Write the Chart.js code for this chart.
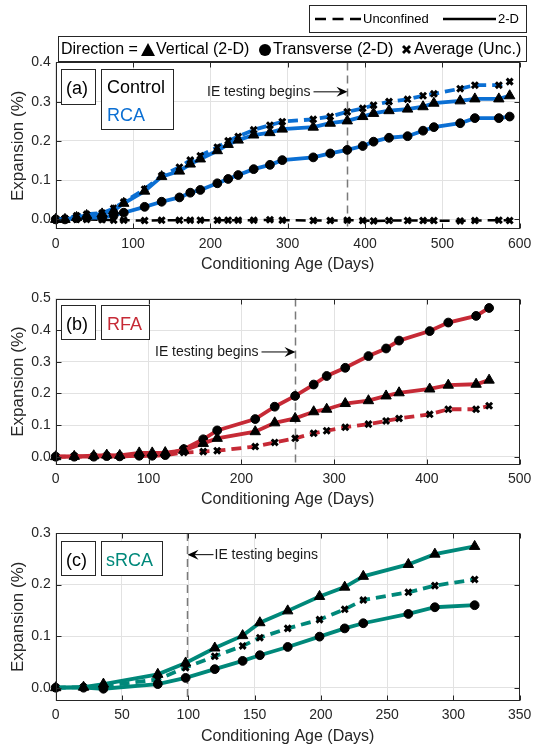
<!DOCTYPE html>
<html><head><meta charset="utf-8">
<script src="https://cdn.jsdelivr.net/npm/chart.js@4.4.1/dist/chart.umd.min.js"></script>
<style>
html,body{margin:0;padding:0;background:#fff;}
body{width:538px;height:752px;position:relative;overflow:hidden;font-family:"Liberation Sans",Arial,Helvetica,sans-serif;color:#000;}
canvas{position:absolute;left:0;z-index:1;}
.box{position:absolute;border:1px solid #262626;background:#fff;box-sizing:border-box;z-index:3;}
.t{position:absolute;white-space:nowrap;line-height:1;}
svg{position:absolute;overflow:visible;}
</style></head><body>

<!-- top legends -->
<div class="box" style="left:309px;top:5px;width:218px;height:28px;"></div>
<svg style="left:0;top:0;z-index:4" width="538" height="70">
  <line x1="315" y1="19" x2="361" y2="19" stroke="#000" stroke-width="2.5" stroke-dasharray="11,6.5"/>
  <line x1="443" y1="19" x2="496" y2="19" stroke="#000" stroke-width="2.5"/>
  <polygon points="141,56 155,56 148,43" fill="#000"/>
  <circle cx="265" cy="50" r="6" fill="#000"/>
  <g stroke="#000" stroke-width="2.8"><line x1="403" y1="46" x2="410" y2="53"/><line x1="403" y1="53" x2="410" y2="46"/></g>
</svg>
<span class="t" style="left:363px;top:12px;font-size:13px;z-index:4">Unconfined</span>
<span class="t" style="left:498px;top:12px;font-size:13px;z-index:4">2-D</span>
<div class="box" style="left:58px;top:36px;width:469px;height:26px;"></div>
<span class="t" style="left:61px;top:41px;font-size:16px;z-index:4">Direction =</span>
<span class="t" style="left:156px;top:41px;font-size:16px;z-index:4">Vertical (2-D)</span>
<span class="t" style="left:273px;top:41px;font-size:16px;z-index:4">Transverse (2-D)</span>
<span class="t" style="left:414px;top:41px;font-size:16px;z-index:4">Average (Unc.)</span>

<!-- panel labels -->
<div class="box" style="left:61px;top:69px;width:35px;height:36px;"></div>
<span class="t" style="left:66px;top:79px;font-size:18px;z-index:4">(a)</span>
<div class="box" style="left:101px;top:69px;width:73px;height:61px;"></div>
<span class="t" style="left:107px;top:78px;font-size:18px;z-index:4">Control</span>
<span class="t" style="left:107px;top:106px;font-size:18px;color:#0b6fd3;z-index:4">RCA</span>

<div class="box" style="left:61px;top:305px;width:35px;height:35px;"></div>
<span class="t" style="left:66px;top:315px;font-size:18px;z-index:4">(b)</span>
<div class="box" style="left:101px;top:305px;width:49px;height:35px;"></div>
<span class="t" style="left:107px;top:315px;font-size:18px;color:#c62a36;z-index:4">RFA</span>

<div class="box" style="left:61px;top:541px;width:35px;height:35px;"></div>
<span class="t" style="left:66px;top:551px;font-size:18px;z-index:4">(c)</span>
<div class="box" style="left:101px;top:541px;width:62px;height:35px;"></div>
<span class="t" style="left:106px;top:551px;font-size:18px;color:#00887a;z-index:4">sRCA</span>

<canvas id="cA" width="538" height="232" style="top:48px"></canvas>
<canvas id="cB" width="538" height="230" style="top:283px"></canvas>
<canvas id="cC" width="538" height="234" style="top:518px"></canvas>

<script>
// ================= DATA =================
// Panel (a): Control & RCA
const daysA = [0, 12, 27, 40, 60, 75, 88, 115, 137, 160, 174, 187, 209, 223, 236, 256, 277, 293, 333, 355, 377, 397, 411, 431, 455, 475, 489, 523, 542, 573, 587];
const rcaVerticalA = [0, 0.000, 0.005, 0.010, 0.014, 0.022, 0.041, 0.072, 0.109, 0.123, 0.141, 0.154, 0.175, 0.191, 0.202, 0.215, 0.221, 0.230, 0.235, 0.245, 0.251, 0.262, 0.270, 0.277, 0.281, 0.287, 0.296, 0.302, 0.307, 0.307, 0.315];
const rcaTransverseA = [0, 0.000, 0.003, 0.005, 0.004, 0.011, 0.017, 0.032, 0.045, 0.056, 0.068, 0.075, 0.092, 0.103, 0.113, 0.128, 0.139, 0.151, 0.158, 0.168, 0.177, 0.187, 0.198, 0.208, 0.212, 0.226, 0.235, 0.245, 0.258, 0.258, 0.262];
const rcaAverageA = [0, 0.002, 0.009, 0.013, 0.016, 0.028, 0.044, 0.077, 0.111, 0.133, 0.151, 0.162, 0.184, 0.200, 0.211, 0.228, 0.240, 0.249, 0.255, 0.262, 0.274, 0.283, 0.291, 0.300, 0.306, 0.315, 0.320, 0.333, 0.342, 0.342, 0.351];
const controlAverageA = [0, 0.000, 0.000, 0.000, -0.001, -0.002, -0.002, -0.003, -0.002, -0.002, -0.002, -0.002, -0.002, -0.002, -0.002, -0.002, -0.001, -0.002, -0.003, -0.003, -0.002, -0.003, -0.004, -0.003, -0.003, -0.003, -0.003, -0.004, -0.003, -0.002, -0.003];
const xTicksA = [0, 100, 200, 300, 400, 500, 600];
const yTicksA = [0, 0.1, 0.2, 0.3, 0.4];
const ieDayA = 377;

// Panel (b): RFA
const daysB = [0, 20, 41, 55, 69, 90, 104, 118, 138, 159, 174, 215, 236, 258, 278, 292, 312, 337, 356, 370, 403, 423, 453, 467];
const rfaVerticalB = [0, 0.001, 0.003, 0.005, 0.004, 0.012, 0.012, 0.013, 0.020, 0.042, 0.058, 0.079, 0.107, 0.121, 0.142, 0.150, 0.168, 0.177, 0.192, 0.202, 0.214, 0.226, 0.229, 0.242];
const rfaTransverseB = [0, 0.000, 0.000, 0.002, 0.001, 0.003, 0.003, 0.005, 0.024, 0.055, 0.083, 0.119, 0.158, 0.192, 0.228, 0.255, 0.281, 0.318, 0.342, 0.367, 0.397, 0.424, 0.445, 0.470];
const rfaAverageB = [0, 0.000, 0.000, 0.001, 0.001, 0.003, 0.004, 0.005, 0.013, 0.016, 0.019, 0.032, 0.045, 0.058, 0.074, 0.082, 0.093, 0.103, 0.113, 0.121, 0.134, 0.150, 0.150, 0.161];
const xTicksB = [0, 100, 200, 300, 400, 500];
const yTicksB = [0, 0.1, 0.2, 0.3, 0.4, 0.5];
const ieDayB = 258;

// Panel (c): sRCA
const daysC = [0, 21, 36, 77, 98, 120, 141, 154, 175, 199, 218, 232, 266, 286, 316];
const srcaVerticalC = [0, 0.001, 0.007, 0.026, 0.048, 0.077, 0.101, 0.126, 0.149, 0.177, 0.195, 0.216, 0.239, 0.259, 0.274];
const srcaTransverseC = [0, 0.000, -0.002, 0.007, 0.019, 0.036, 0.052, 0.063, 0.079, 0.099, 0.115, 0.125, 0.143, 0.156, 0.160];
const srcaAverageC = [0, 0.001, 0.003, 0.016, 0.039, 0.061, 0.081, 0.097, 0.115, 0.132, 0.152, 0.170, 0.185, 0.198, 0.210];
const xTicksC = [0, 50, 100, 150, 200, 250, 300, 350];
const yTicksC = [0, 0.1, 0.2, 0.3];
const ieDayC = 99;

// ================= STYLE =================
const BLUE = '#0b6fd3', RED = '#c62a36', TEAL = '#00887a', INK = '#262626';
Chart.defaults.font.family = '"Liberation Sans", Arial, Helvetica, sans-serif';
Chart.defaults.color = INK;

function series(days, vals, color, style, dashed, width) {
  const isCross = style === 'crossRot';
  return {
    data: days.map((d, i) => ({x: d, y: vals[i]})),
    borderColor: color, borderWidth: width || 3.8,
    borderDash: dashed ? [10, 6] : [],
    pointStyle: style,
    pointRadius: style === 'triangle' ? 6 : (isCross ? 4.2 : 4.4),
    pointBackgroundColor: '#000', pointBorderColor: '#000',
    pointBorderWidth: isCross ? 3 : 1,
    tension: 0, fill: false, clip: false
  };
}

const framePlugin = {
  id: 'frame',
  beforeDatasetsDraw(chart, args, o) {
    const {ctx, chartArea: a, scales: {x}} = chart;
    const px = Math.round(x.getPixelForValue(o.ieDay)) + 0.5;
    ctx.save();
    ctx.strokeStyle = '#7a7a7a'; ctx.lineWidth = 1.5; ctx.setLineDash([8, 5]);
    ctx.beginPath(); ctx.moveTo(px, a.top); ctx.lineTo(px, a.bottom); ctx.stroke();
    ctx.restore();
  },
  afterDraw(chart, args, o) {
    const {ctx, chartArea: a, scales: {x, y}} = chart;
    ctx.save();
    const L = Math.round(a.left) + 0.5, R = Math.round(a.right) - 0.5, T = Math.round(a.top) + 0.5, B = Math.round(a.bottom) - 0.5;
    ctx.strokeStyle = INK; ctx.lineWidth = 1;
    ctx.strokeRect(L, T, R - L, B - T);
    ctx.beginPath();
    x.ticks.forEach(t => { const p = Math.round(x.getPixelForValue(t.value)) + 0.5; ctx.moveTo(p, B); ctx.lineTo(p, B - 5); ctx.moveTo(p, T); ctx.lineTo(p, T + 5); });
    y.ticks.forEach(t => { const p = Math.round(y.getPixelForValue(t.value)) + 0.5; ctx.moveTo(L, p); ctx.lineTo(L + 5, p); ctx.moveTo(R, p); ctx.lineTo(R - 5, p); });
    ctx.stroke();
    // annotation
    const px = Math.round(x.getPixelForValue(o.ieDay)) + 0.5;
    const py = y.getPixelForValue(o.ieY);
    const dir = o.ieSide === 'left' ? 1 : -1;
    const tail = px - dir * o.arrowLen;
    ctx.strokeStyle = '#000'; ctx.fillStyle = '#000'; ctx.lineWidth = 1;
    ctx.beginPath(); ctx.moveTo(tail, py); ctx.lineTo(px - dir * 6, py); ctx.stroke();
    ctx.beginPath();
    ctx.moveTo(px, py);
    ctx.lineTo(px - dir * 11, py - 5);
    ctx.lineTo(px - dir * 7, py);
    ctx.lineTo(px - dir * 11, py + 5);
    ctx.closePath(); ctx.fill();
    ctx.font = '14px "Liberation Sans", Arial, sans-serif';
    ctx.fillStyle = '#1a1a1a';
    ctx.textBaseline = 'middle';
    if (o.ieSide === 'left') { ctx.textAlign = 'right'; ctx.fillText('IE testing begins', tail - 3, py); }
    else { ctx.textAlign = 'left'; ctx.fillText('IE testing begins', tail + 1, py); }
    ctx.restore();
  }
};

function panel(id, p) {
  const xTitleLH = 16 * 1.2;
  const xH = p.titleCenter + xTitleLH / 2 - p.areaBottom;
  const canvasH = document.getElementById(id).height;
  const padBottom = canvasH - (p.titleCenter + xTitleLH / 2 - p.canvasTop);
  new Chart(document.getElementById(id), {
    type: 'line',
    data: {datasets: p.datasets},
    plugins: [framePlugin],
    options: {
      responsive: false, animation: false, events: [], devicePixelRatio: 1,
      layout: {padding: {top: p.areaTop - p.canvasTop, left: 0, right: 538 - 525.5, bottom: padBottom}},
      plugins: {legend: {display: false}, tooltip: {enabled: false},
        frame: {ieDay: p.ieDay, ieY: p.ieY, ieSide: p.ieSide, arrowLen: p.arrowLen}},
      scales: {
        x: {type: 'linear', min: p.xTicks[0], max: p.xTicks[p.xTicks.length - 1],
          afterBuildTicks: s => { s.ticks = p.xTicks.map(v => ({value: v})); },
          afterFit: s => { s.height = xH; },
          ticks: {padding: 6.6, color: INK, font: {size: 14}, maxRotation: 0, autoSkip: false, callback: v => String(v)},
          grid: {color: '#e2e2e2', drawTicks: false, lineWidth: 1},
          border: {display: false},
          title: {display: true, text: 'Conditioning Age (Days)', font: {size: 16}, color: INK, padding: 0}},
        y: {type: 'linear', min: -0.025, max: p.yTicks[p.yTicks.length - 1],
          afterBuildTicks: s => { s.ticks = p.yTicks.map(v => ({value: v})); },
          afterFit: s => { s.width = 55.7; },
          ticks: {padding: 5, color: INK, font: {size: 14}, callback: v => Number(v).toFixed(1)},
          grid: {color: '#e2e2e2', drawTicks: false, lineWidth: 1},
          border: {display: false},
          title: {display: true, text: 'Expansion (%)', font: {size: 17}, color: INK, padding: {top: 8, bottom: 0}}}
      }
    }
  });
}

panel('cA', {
  canvasTop: 48, areaTop: 62.4, areaBottom: 229.2, titleCenter: 265,
  xTicks: xTicksA, yTicks: yTicksA, ieDay: ieDayA, ieY: 0.325, ieSide: 'left', arrowLen: 34,
  datasets: [
    series(daysA, rcaVerticalA, BLUE, 'triangle', false),
    series(daysA, rcaTransverseA, BLUE, 'circle', false),
    series(daysA, rcaAverageA, BLUE, 'crossRot', true),
    series(daysA, controlAverageA, '#000', 'crossRot', true, 2.5)
  ]
});
panel('cB', {
  canvasTop: 283, areaTop: 298.5, areaBottom: 464.6, titleCenter: 499.5,
  xTicks: xTicksB, yTicks: yTicksB, ieDay: ieDayB, ieY: 0.331, ieSide: 'left', arrowLen: 34,
  datasets: [
    series(daysB, rfaVerticalB, RED, 'triangle', false),
    series(daysB, rfaTransverseB, RED, 'circle', false),
    series(daysB, rfaAverageB, RED, 'crossRot', true)
  ]
});
panel('cC', {
  canvasTop: 518, areaTop: 533, areaBottom: 700.6, titleCenter: 736.7,
  xTicks: xTicksC, yTicks: yTicksC, ieDay: ieDayC, ieY: 0.258, ieSide: 'right', arrowLen: 26,
  datasets: [
    series(daysC, srcaVerticalC, TEAL, 'triangle', false),
    series(daysC, srcaTransverseC, TEAL, 'circle', false),
    series(daysC, srcaAverageC, TEAL, 'crossRot', true)
  ]
});
</script>
</body></html>
